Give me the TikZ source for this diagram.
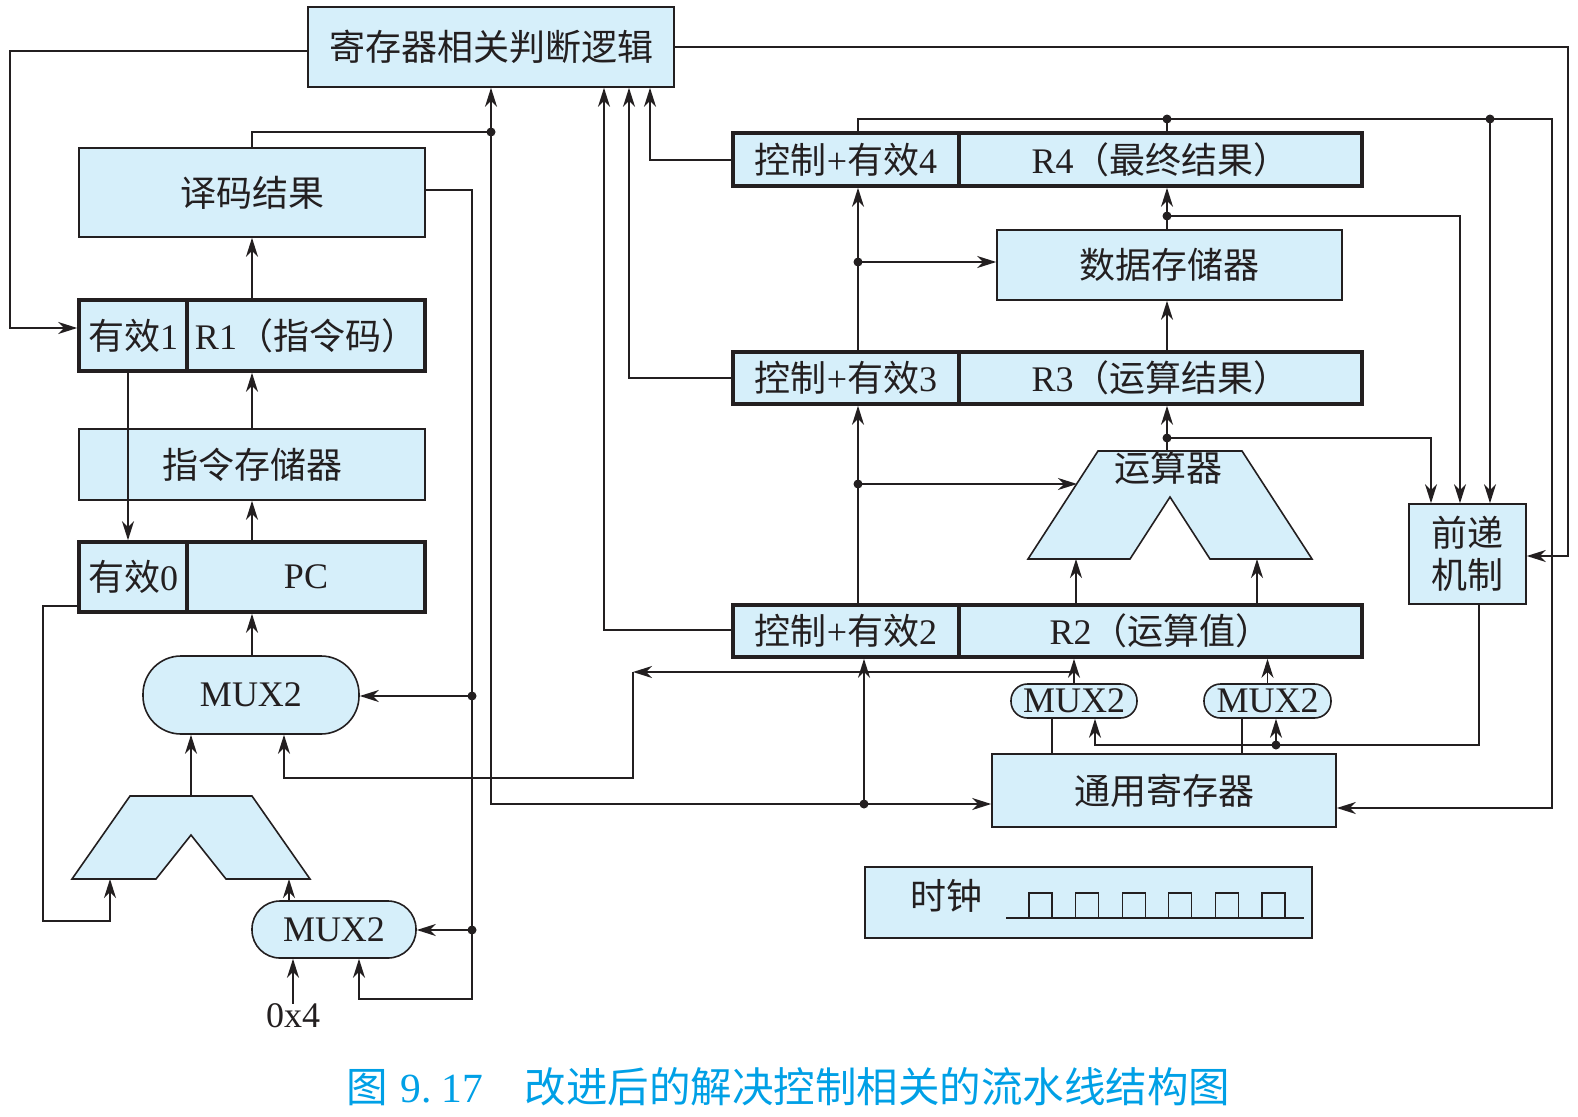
\documentclass[tikz,border=0pt]{standalone}
\usepackage{fontspec}
\setmainfont{Liberation Serif}
\newfontfamily\cjk{Noto Sans CJK SC}
\usetikzlibrary{arrows.meta}
\definecolor{boxfill}{RGB}{214,239,250}
\definecolor{ink}{RGB}{35,31,32}
\definecolor{capblue}{RGB}{0,160,230}
\begin{document}
\begin{tikzpicture}[x=1pt,y=-1pt,color=ink,
  wire/.style={line width=1.6pt},
  tip/.tip={Stealth[length=19pt,width=12pt,inset=6pt]},
  arr/.style={wire,-tip},
  twoway/.style={wire,tip-tip},
  blk/.style={draw,fill=boxfill,line width=1.6pt,inner sep=0pt,
    font=\fontsize{36}{42}\selectfont},
  reg/.style={blk,line width=3.6pt},
  mux/.style={blk},
  dot/.style={circle,fill,inner sep=0pt,minimum size=9pt},
  lbl/.style={inner sep=0pt,font=\fontsize{36}{42}\selectfont}]
\useasboundingbox (0,0) rectangle (1578,1116);
\fill[white] (0,0) rectangle (1578,1116);

% ---------- left column: fetch / decode ----------
\node[blk,minimum width=366pt,minimum height=80pt] (logic) at (491,47) {\cjk 寄存器相关判断逻辑};
\node[blk,minimum width=346pt,minimum height=89pt] (decode) at (252,192.5) {\cjk 译码结果};
\node[reg,minimum width=108pt,minimum height=71pt] (v1) at (133,335.5) {{\cjk 有效}1};
\node[reg,minimum width=238pt,minimum height=71pt] (r1) at (306,335.5) {R1{\cjk （指令码）}};
\node[blk,minimum width=346pt,minimum height=71pt] (imem) at (252,464.5) {\cjk 指令存储器};
\node[reg,minimum width=108pt,minimum height=70pt] (v0) at (133,577) {{\cjk 有效}0};
\node[reg,minimum width=238pt,minimum height=70pt] (pc) at (306,577) {PC};
\node[mux,minimum width=216pt,minimum height=78pt,rounded corners=38pt] (mux1) at (251,695) {MUX2};
\node[mux,minimum width=164pt,minimum height=57pt,rounded corners=28pt] (mux0) at (334,929.5) {MUX2};
\node[lbl] (hex) at (293,1016) {0x4};

% adder
\filldraw[fill=boxfill,wire] (130,796) -- (252,796) -- (310,879) -- (226,879)
  -- (191,835) -- (156,879) -- (72,879) -- cycle;
\coordinate (addout) at (191,796);
\coordinate (addinl) at (110,879);
\coordinate (addinr) at (289,879);

% ---------- right part: execute / memory / write back ----------
\node[reg,minimum width=226pt,minimum height=53pt] (c4) at (846,159.5) {{\cjk 控制}+{\cjk 有效}4};
\node[reg,minimum width=403pt,minimum height=53pt] (r4) at (1160.5,159.5) {R4{\cjk （最终结果）}};
\node[blk,minimum width=345pt,minimum height=70pt] (dmem) at (1169.5,265) {\cjk 数据存储器};
\node[reg,minimum width=226pt,minimum height=52pt] (c3) at (846,378) {{\cjk 控制}+{\cjk 有效}3};
\node[reg,minimum width=403pt,minimum height=52pt] (r3) at (1160.5,378) {R3{\cjk （运算结果）}};

% ALU
\filldraw[fill=boxfill,wire] (1098,451) -- (1242,451) -- (1312,559) -- (1210,559)
  -- (1170,497) -- (1130,559) -- (1028,559) -- cycle;
\node[lbl] (alulbl) at (1168,468) {\cjk 运算器};

\node[blk,minimum width=117pt,minimum height=100pt,align=center] (fwd) at (1467.5,554) {{\cjk 前递}\\{\cjk 机制}};
\node[reg,minimum width=226pt,minimum height=52pt] (c2) at (846,631) {{\cjk 控制}+{\cjk 有效}2};
\node[reg,minimum width=403pt,minimum height=52pt] (r2) at (1160.5,631) {R2{\cjk （运算值）}};
\node[mux,minimum width=126pt,minimum height=34pt,rounded corners=16.5pt] (muxa) at (1074,701) {MUX2};
\node[mux,minimum width=127pt,minimum height=34pt,rounded corners=16.5pt] (muxb) at (1267.5,701) {MUX2};
\node[blk,minimum width=344pt,minimum height=73pt] (gpr) at (1164,790.5) {\cjk 通用寄存器};

% clock
\node[blk,minimum width=447pt,minimum height=71pt] (clk) at (1088.5,902.5) {};
\node[lbl] (clklbl) at (946,896) {\cjk 时钟};
\draw[line width=1.3pt] (1006,918) -- (1304,918);
\foreach \i in {0,...,5}
  \draw[line width=1.3pt] ({1029+46.6*\i},918) |- ({1052+46.6*\i},893) -- ({1052+46.6*\i},918);

% junction dots
\node[dot] (d1) at (491,132) {};
\node[dot] (d2) at (472,696) {};
\node[dot] (d3) at (472,930) {};
\node[dot] (d5) at (864,804) {};
\node[dot] (d6) at (858,484) {};
\node[dot] (d7) at (858,262) {};
\node[dot] (d8) at (1167,119) {};
\node[dot] (d9) at (1490,119) {};
\node[dot] (d10) at (1167,438) {};
\node[dot] (d11) at (1167,216) {};
\node[dot] (d12) at (1276,745) {};

% ---------- connectors ----------
\draw[arr] (logic.west |- 0,51) -| (10,328) -- (v1.west |- 0,328);
\draw[arr] (logic.east) -| (1568,556) -- (fwd.east |- 0,556);

\draw[wire] (decode.north) |- (d1.center);
\draw[twoway] (logic.south -| d1) -- (491,804) -- (gpr.west |- 0,804);
\draw[arr] (d5.center) -- (c2.south -| d5);

\draw[arr] (decode.east |- 0,190) -| (472,999) -| (mux0.south -| 359,0);
\draw[arr] (d2.center) -- (mux1.east |- d2);
\draw[arr] (d3.center) -- (mux0.east |- d3);

\draw[arr] (v1.south -| 128,0) -- (v0.north -| 128,0);
\draw[arr] (r1.north -| decode.south) -- (decode.south);
\draw[arr] (imem.north) -- (r1.south -| imem.north);
\draw[arr] (pc.north -| imem.south) -- (imem.south);
\draw[arr] (mux1.north -| 252,0) -- (pc.south -| 252,0);

\draw[arr] (v0.west |- 0,606) -| (43,921) -| (addinl);
\draw[arr] (addout) -- (mux1.south -| addout);
\draw[arr] (mux0.north -| addinr) -- (addinr);
\draw[arr] (hex.north) -- (mux0.south -| hex.north);

\draw[arr] (muxa.north) -- (r2.south -| muxa.north);
\draw[arr] (muxb.north) -- (r2.south -| muxb.north);
\draw[arr] (muxa.north |- 0,672) -- (633,672);
\draw[arr] (633,672) |- (284,778) -- (mux1.south -| 284,0);

\draw[arr] (c2.north -| 858,0) -- (c3.south -| 858,0);
\draw[arr] (d6.center) -- (1077,484);
\draw[arr] (c3.north -| 858,0) -- (c4.south -| 858,0);
\draw[arr] (d7.center) -- (dmem.west |- d7);
\draw[arr] (c4.north -| 858,0) |- (1552,119) |- (gpr.east |- 0,808);
\draw[wire] (r4.north -| d8) -- (d8.center);
\draw[arr] (d9.center) -- (fwd.north -| d9);

\draw[arr] (c2.west |- 0,630) -| (logic.south -| 604,0);
\draw[arr] (c3.west) -| (logic.south -| 629,0);
\draw[arr] (c4.west |- 0,160) -| (logic.south -| 650,0);

\draw[arr] (r2.north -| 1076,0) -- (1076,559);
\draw[arr] (r2.north -| 1257,0) -- (1257,559);
\draw[arr] (1167,451) -- (r3.south -| 1167,0);
\draw[arr] (d10.center) -| (fwd.north -| 1431,0);
\draw[arr] (r3.north -| 1167,0) -- (dmem.south -| 1167,0);
\draw[arr] (dmem.north -| 1167,0) -- (r4.south -| 1167,0);
\draw[arr] (d11.center) -| (fwd.north -| 1460,0);

\draw[arr] (fwd.south -| 1479,0) |- (1095,745) -- (muxa.south -| 1095,0);
\draw[arr] (d12.center) -- (muxb.south -| d12);
\draw[wire] (gpr.north -| 1052,0) -- (muxa.south -| 1052,0);
\draw[wire] (gpr.north -| 1242,0) -- (muxb.south -| 1242,0);

% caption
\node[inner sep=0pt,text=capblue,font=\fontsize{41.5}{44}\selectfont] (cap) at (788.5,1087)
  {{\cjk 图}\hspace{0.3em}9.\hspace{0.25em}17\hspace{1em}{\cjk 改进后的解决控制相关的流水线结构图}};
\end{tikzpicture}
\end{document}
